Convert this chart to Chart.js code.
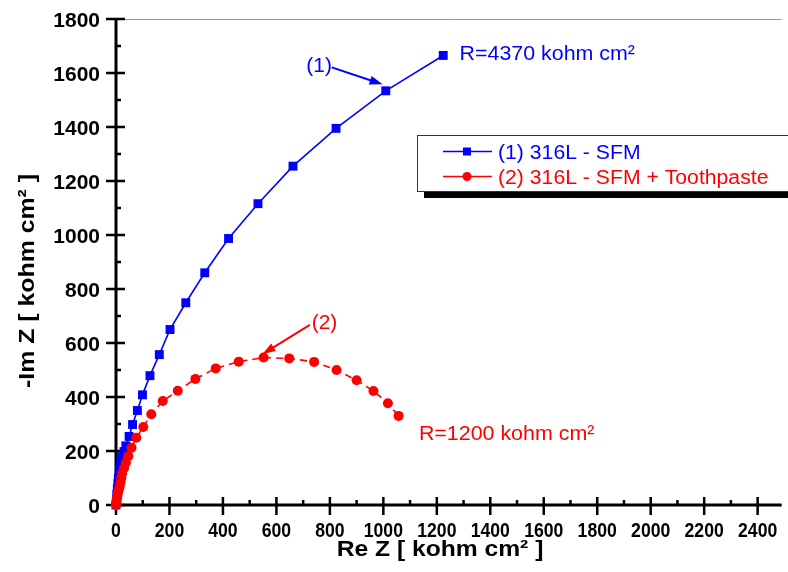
<!DOCTYPE html>
<html>
<head>
<meta charset="utf-8">
<title>Nyquist plot - 316L</title>
<script src="https://cdn.jsdelivr.net/npm/chart.js@4.4.1/dist/chart.umd.min.js"></script>
<style>
  body { margin: 0; background: #fff; }
  canvas { display: block; }
</style>
</head>
<body>
<canvas id="nyquistChart" width="788" height="572"></canvas>
<script>
// impedance data, kohm cm2
const sfmRe = [0, 1, 2, 3, 5, 7, 9, 12, 15, 18, 21, 30, 37, 49, 62, 80, 99, 127, 162, 202, 261, 332, 421, 531, 662, 823, 1009, 1224];
const sfmIm = [0, 8, 20, 40, 60, 80, 100, 120, 140, 160, 179, 198, 219, 254, 298, 350, 408, 479, 557, 650, 749, 860, 987, 1116, 1255, 1395, 1534, 1665];

const pasteRe = [0, 1, 2, 3, 4, 6, 8, 11, 14, 17, 20, 23, 30, 37, 46, 58, 76, 102, 132, 175, 231, 297, 373, 459, 552, 648, 741, 825, 900, 963, 1017, 1057];
const pasteIm = [0, 5, 12, 20, 28, 38, 48, 58, 70, 85, 100, 117, 136, 157, 181, 212, 249, 289, 336, 385, 423, 467, 506, 531, 546, 543, 530, 500, 462, 422, 377, 330];

const seriesLabels = ["(1) 316L - SFM", "(2) 316L - SFM + Toothpaste"];
const xTicks = [0, 200, 400, 600, 800, 1000, 1200, 1400, 1600, 1800, 2000, 2200, 2400];
const yTicks = [0, 200, 400, 600, 800, 1000, 1200, 1400, 1600, 1800];
const xTitle = "Re Z [ kohm cm\u00B2 ]";
const yTitle = "-Im Z [ kohm cm\u00B2 ]";
const fitLabels = ["R=4370 kohm cm\u00B2", "R=1200 kohm cm\u00B2"];
const curveTags = ["(1)", "(2)"];

const BLUE = "#0000ff";
const RED = "#ff0000";
const FONT = "'Liberation Sans', Arial, sans-serif";

function toPoints(xs, ys) {
  return xs.map((v, i) => ({ x: v, y: ys[i] }));
}

// text with a horizontal stretch factor
function drawText(ctx, text, x, y, sx, align) {
  ctx.save();
  ctx.translate(x, y);
  ctx.scale(sx, 1);
  ctx.textAlign = align || "left";
  ctx.textBaseline = "alphabetic";
  ctx.fillText(text, 0, 0);
  ctx.restore();
}

function drawArrow(ctx, x1, y1, x2, y2, color) {
  const a = Math.atan2(y2 - y1, x2 - x1);
  const c = Math.cos(a), s = Math.sin(a);
  ctx.save();
  ctx.strokeStyle = color;
  ctx.fillStyle = color;
  ctx.lineWidth = 2;
  ctx.beginPath();
  ctx.moveTo(x1, y1);
  ctx.lineTo(x2 - 9 * c, y2 - 9 * s);
  ctx.stroke();
  ctx.beginPath();
  ctx.moveTo(x2, y2);
  ctx.lineTo(x2 - 13 * c + 4.5 * s, y2 - 13 * s - 4.5 * c);
  ctx.lineTo(x2 - 13 * c - 4.5 * s, y2 - 13 * s + 4.5 * c);
  ctx.closePath();
  ctx.fill();
  ctx.restore();
}

const axesPlugin = {
  id: "originAxes",
  beforeDatasetsDraw(chart) {
    const { ctx, chartArea: a, scales: { x, y } } = chart;
    ctx.save();
    // thin top frame
    ctx.strokeStyle = "#9a9a9a";
    ctx.lineWidth = 1;
    ctx.beginPath();
    ctx.moveTo(a.left, a.top + 0.5);
    ctx.lineTo(a.right, a.top + 0.5);
    ctx.stroke();

    ctx.strokeStyle = "#000";
    ctx.lineWidth = 3;
    ctx.beginPath();
    ctx.moveTo(a.left, a.top);
    ctx.lineTo(a.left, a.bottom);
    ctx.moveTo(a.left - 1.5, a.bottom);
    ctx.lineTo(a.right, a.bottom);
    ctx.stroke();

    ctx.lineWidth = 2.5;
    ctx.beginPath();
    yTicks.forEach(v => {
      const py = y.getPixelForValue(v);
      ctx.moveTo(a.left - 10, py);
      ctx.lineTo(a.left + 9, py);
      if (v + 100 < y.max) {
        const pm = y.getPixelForValue(v + 100);
        ctx.moveTo(a.left, pm);
        ctx.lineTo(a.left + 5, pm);
      }
    });
    xTicks.forEach(v => {
      const px = x.getPixelForValue(v);
      ctx.moveTo(px, a.bottom + 10);
      ctx.lineTo(px, a.bottom - 8);
      if (v + 100 < x.max) {
        const pm = x.getPixelForValue(v + 100);
        ctx.moveTo(pm, a.bottom);
        ctx.lineTo(pm, a.bottom - 5);
      }
    });
    ctx.stroke();

    ctx.fillStyle = "#000";
    ctx.font = "bold 21px " + FONT;
    yTicks.forEach(v => {
      drawText(ctx, String(v), a.left - 16, y.getPixelForValue(v) + 7.5, 1, "right");
    });
    xTicks.forEach(v => {
      drawText(ctx, String(v), x.getPixelForValue(v), a.bottom + 32, 0.84, "center");
    });

    ctx.font = "bold 22px " + FONT;
    drawText(ctx, xTitle, 440, 556, 1.12, "center");
    ctx.save();
    ctx.translate(34, 281);
    ctx.rotate(-Math.PI / 2);
    drawText(ctx, yTitle, 0, 0, 1.13, "center");
    ctx.restore();
    ctx.restore();
  },
  afterDraw(chart) {
    const { ctx, scales: { x, y } } = chart;
    ctx.save();

    // curve tags, arrows and fitted resistance labels
    ctx.font = "20px " + FONT;
    ctx.fillStyle = BLUE;
    drawText(ctx, curveTags[0], x.getPixelForValue(760), y.getPixelForValue(1604), 1.05, "center");
    drawText(ctx, fitLabels[0], x.getPixelForValue(1285), y.getPixelForValue(1648), 1.07, "left");
    drawArrow(ctx, x.getPixelForValue(807), y.getPixelForValue(1621),
      x.getPixelForValue(997), y.getPixelForValue(1558), BLUE);

    ctx.fillStyle = RED;
    drawText(ctx, curveTags[1], x.getPixelForValue(780), y.getPixelForValue(652), 1.05, "center");
    drawText(ctx, fitLabels[1], x.getPixelForValue(1133), y.getPixelForValue(241), 1.07, "left");
    drawArrow(ctx, x.getPixelForValue(725), y.getPixelForValue(667),
      x.getPixelForValue(548), y.getPixelForValue(559), RED);

    // boxed legend with drop shadow
    const bx = 417, by = 135, bw = 400, bh = 56;
    ctx.fillStyle = "#000";
    ctx.fillRect(bx + 7, by + 7, bw, bh);
    ctx.fillStyle = "#fff";
    ctx.fillRect(bx, by, bw, bh);
    ctx.strokeStyle = "#333";
    ctx.lineWidth = 1;
    ctx.strokeRect(bx + 0.5, by + 0.5, bw, bh);

    chart.data.datasets.forEach((ds, i) => {
      const cy = 151.5 + i * 25;
      ctx.strokeStyle = ds.borderColor;
      ctx.lineWidth = 1.6;
      ctx.setLineDash([]);
      ctx.beginPath();
      ctx.moveTo(443, cy);
      ctx.lineTo(492, cy);
      ctx.stroke();
      ctx.fillStyle = ds.backgroundColor;
      if (ds.pointStyle === "rect") {
        ctx.fillRect(463, cy - 4, 8, 8);
      } else {
        ctx.beginPath();
        ctx.arc(467, cy, 4.5, 0, Math.PI * 2);
        ctx.fill();
      }
      ctx.fillStyle = ds.borderColor;
      ctx.font = "20px " + FONT;
      drawText(ctx, ds.label, 498, cy + 7, 1.06, "left");
    });
    ctx.restore();
  }
};

new Chart(document.getElementById("nyquistChart").getContext("2d"), {
  type: "scatter",
  data: {
    datasets: [{
      label: seriesLabels[0],
      data: toPoints(sfmRe, sfmIm),
      showLine: true,
      borderColor: BLUE,
      backgroundColor: BLUE,
      borderWidth: 1.6,
      pointStyle: "rect",
      pointRadius: 6.3,
      pointBorderWidth: 0,
      order: 1,
      clip: false
    }, {
      label: seriesLabels[1],
      data: toPoints(pasteRe, pasteIm),
      showLine: true,
      borderColor: RED,
      backgroundColor: RED,
      borderWidth: 1.6,
      borderDash: [7, 5],
      pointStyle: "circle",
      pointRadius: 5,
      pointBorderWidth: 0,
      order: 0,
      clip: false
    }]
  },
  options: {
    responsive: false,
    animation: false,
    layout: { padding: { left: 116, right: 0, top: 19, bottom: 67 } },
    scales: {
      x: { type: "linear", min: 0, max: 2490, display: false },
      y: { type: "linear", min: 0, max: 1800, display: false }
    },
    plugins: {
      legend: { display: false },
      tooltip: { enabled: false }
    }
  },
  plugins: [axesPlugin]
});
</script>
</body>
</html>
